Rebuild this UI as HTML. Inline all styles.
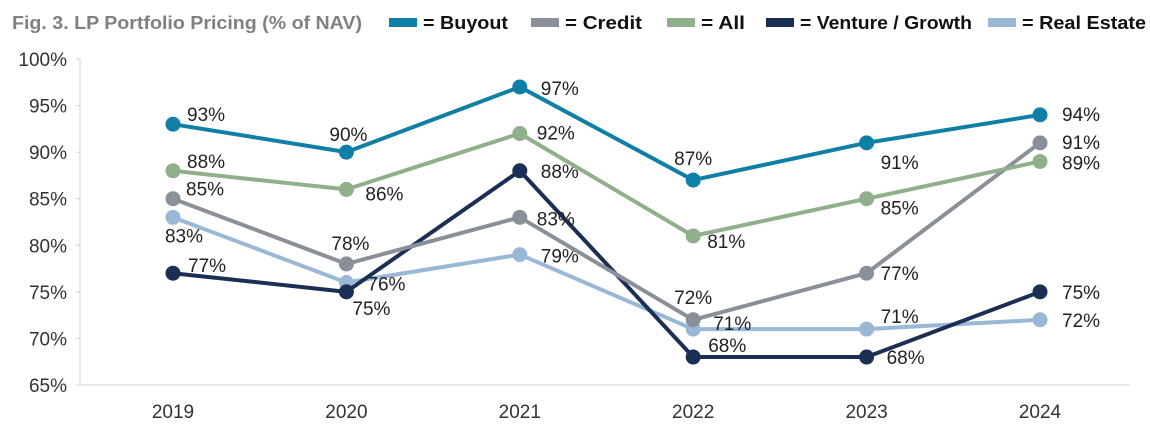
<!DOCTYPE html>
<html><head><meta charset="utf-8"><style>
html,body{margin:0;padding:0;background:#fff;}
svg{display:block;font-family:"Liberation Sans",sans-serif;}
</style></head><body>
<svg id="chart" width="1150" height="424">
<text x="12" y="29" font-size="18" font-weight="bold" fill="#808080" textLength="350" lengthAdjust="spacingAndGlyphs">Fig. 3. LP Portfolio Pricing (% of NAV)</text>
<g id="legend"></g>
<g id="axes"></g>
<g id="series"></g>
</svg>
<script>
const years = ["2019","2020","2021","2022","2023","2024"];
const yTicks = [65,70,75,80,85,90,95,100];
const seriesNames = ["Buyout","Credit","All","Venture / Growth","Real Estate"];
const buyout = [93,90,97,87,91,94];
const credit = [85,78,83,72,77,91];
const all = [88,86,92,81,85,89];
const venture = [77,75,88,68,68,75];
const realEstate = [83,76,79,71,71,72];
const colors = ["#0f7fa6","#8a9099","#8fb08a","#1b2f55","#9ab8d6"];
const ns="http://www.w3.org/2000/svg";
const svg=document.getElementById('chart');
const X0=173, XS=173.4, Y0=59, YS=9.314;
function x(i){return X0+i*XS;}
function y(v){return Y0+(100-v)*YS;}
function mk(tag,attrs,parent,txt){const e=document.createElementNS(ns,tag);for(const k in attrs)e.setAttribute(k,attrs[k]);if(txt!==undefined)e.textContent=txt;parent.appendChild(e);return e;}
// legend
const leg=document.getElementById('legend');
const legTx=[423,565,701,800,1022], legW=[85,77,44,172,124];
seriesNames.forEach((n,i)=>{
  const r=mk('rect',{x:legTx[i]-34,y:18,width:28,height:9,fill:colors[i]},leg);
  
  
  const t=mk('text',{x:legTx[i],y:29,'font-size':18,'font-weight':'bold',fill:'#111',textLength:legW[i],lengthAdjust:'spacingAndGlyphs'},leg,'= '+n);
  
  
});
// axes
const ax=document.getElementById('axes');
const yl=mk('line',{x1:80,y1:y(100),x2:80,y2:y(65),stroke:'#d0d0d0','stroke-width':1},ax);


const xl=mk('line',{x1:80,y1:y(65),x2:1130,y2:y(65),stroke:'#d0d0d0','stroke-width':1},ax);


yTicks.forEach(v=>{
  mk('line',{x1:76,y1:y(v),x2:80,y2:y(v),stroke:'#d0d0d0'},ax);
  const t=mk('text',{x:67,y:y(v)+7,'font-size':19,fill:'#333','text-anchor':'end'},ax,v+'%');
  
  
});
years.forEach((yr,i)=>{
  const t=mk('text',{x:x(i),y:418,'font-size':19,fill:'#333','text-anchor':'middle'},ax,yr);
  
  
});
// label offsets [dx,dy,anchor]
const offB=[[14,-10,'start'],[2,-18,'middle'],[21,1,'start'],[0,-22,'middle'],[14,19,'start'],[22,-1,'start']];
const offC=[[13,-10,'start'],[4,-21,'middle'],[17,1,'start'],[0,-23,'middle'],[14,0,'start'],[22,-1,'start']];
const offA=[[14,-10,'start'],[19,4,'start'],[17,-1,'start'],[14,5,'start'],[14,9,'start'],[22,1,'start']];
const offV=[[15,-8,'start'],[25,16,'middle'],[21,0,'start'],[15,-12,'start'],[20,0,'start'],[22,0,'start']];
const offR=[[11,18,'middle'],[21,1,'start'],[21,1,'start'],[20,-6,'start'],[14,-13,'start'],[22,0,'start']];
const data=[buyout,credit,all,venture,realEstate];
const offs=[offB,offC,offA,offV,offR];
const order=[4,3,1,2,0];
const sg=document.getElementById('series');
order.forEach(si=>{
  const vals=data[si];
  const g=mk('g',{},sg);
  
  
  const pts=vals.map((v,i)=>x(i)+','+y(v)).join(' ');
  const pl=mk('polyline',{points:pts,fill:'none',stroke:colors[si],'stroke-width':4,'stroke-linejoin':'round'},g);
  
  
  vals.forEach((v,i)=>{
    const c=mk('circle',{cx:x(i),cy:y(v),r:7.5,fill:colors[si]},g);
    
    
  });
  vals.forEach((v,i)=>{
    const o=offs[si][i];
    const t=mk('text',{x:x(i)+o[0],y:y(v)+o[1]+7,'font-size':19,fill:'#222','text-anchor':o[2]},g,v+'%');
    
    
  });
});
</script>
</body></html>
